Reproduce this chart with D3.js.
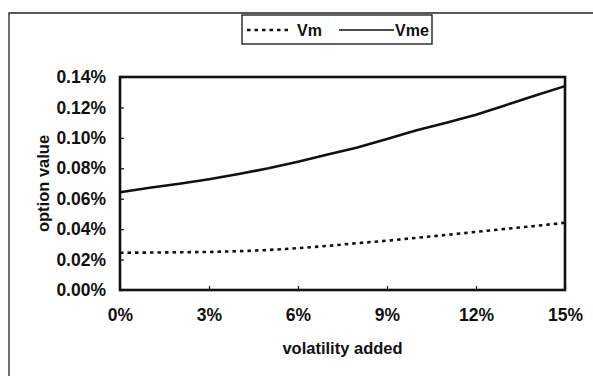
<!DOCTYPE html>
<html>
<head>
<meta charset="utf-8">
<script src="https://cdn.jsdelivr.net/npm/d3@7"></script>
<style>
  html, body { margin: 0; padding: 0; background: #fff; }
  svg { display: block; }
  text { font-family: "Liberation Sans", Arial, sans-serif; fill: #111; }
</style>
</head>
<body>
<svg id="chart" width="593" height="376"></svg>
<script>
// Volatility added (%) along the x axis
const volAdded = [0, 1, 2, 3, 4, 5, 6, 7, 8, 9, 10, 11, 12, 13, 14, 15];
// Option values (%) for each series
const vm  = [0.0245, 0.0246, 0.0248, 0.0250, 0.0255, 0.0263, 0.0275, 0.0290,
             0.0308, 0.0324, 0.0343, 0.0362, 0.0382, 0.0402, 0.0421, 0.0442];
const vme = [0.0642, 0.0672, 0.0698, 0.0728, 0.0762, 0.0800, 0.0843, 0.0890,
             0.0937, 0.0993, 0.1050, 0.1100, 0.1152, 0.1215, 0.1278, 0.1340];
const xTicks = [0, 3, 6, 9, 12, 15];
const yTicks = [0, 0.02, 0.04, 0.06, 0.08, 0.10, 0.12, 0.14];
const seriesNames = ["Vm", "Vme"];

const svg = d3.select("#chart");
const plot = { left: 120, right: 565, top: 77, bottom: 290 };
const labelFont = 17.5;
const legendFont = 16;

const x = d3.scaleLinear().domain([0, 15]).range([plot.left, plot.right]);
const y = d3.scaleLinear().domain([0, 0.14]).range([plot.bottom, plot.top]);

// outer chart border (left and top edges visible)
svg.append("path")
  .attr("d", `M9,378 L9,13 L596,13`)
  .attr("fill", "none").attr("stroke", "#222").attr("stroke-width", 1.3);

// y axis with inward ticks
const yAxis = d3.axisLeft(y).tickValues(yTicks).tickSize(-4).tickPadding(14)
  .tickFormat(d => d3.format(".2f")(d) + "%");
const gy = svg.append("g").attr("transform", `translate(${plot.left},0)`).call(yAxis);
gy.select(".domain").remove();
gy.selectAll(".tick line").attr("stroke", "#111").attr("stroke-width", 1.2);
gy.selectAll(".tick text")
  .attr("x", -14).attr("font-size", labelFont).attr("font-weight", "bold")
  .style("font-family", "'Liberation Sans', Arial, sans-serif").attr("fill", "#111");

// x axis with inward ticks
const xAxis = d3.axisBottom(x).tickValues(xTicks).tickSize(-4).tickPadding(19)
  .tickFormat(d => d + "%");
const gx = svg.append("g").attr("transform", `translate(0,${plot.bottom})`).call(xAxis);
gx.select(".domain").remove();
gx.selectAll(".tick line").attr("stroke", "#111").attr("stroke-width", 1.2);
gx.selectAll(".tick text")
  .attr("font-size", labelFont).attr("font-weight", "bold")
  .style("font-family", "'Liberation Sans', Arial, sans-serif").attr("fill", "#111");

// plot area frame
svg.append("rect")
  .attr("x", plot.left).attr("y", plot.top)
  .attr("width", plot.right - plot.left).attr("height", plot.bottom - plot.top)
  .attr("fill", "none").attr("stroke", "#111").attr("stroke-width", 2.6);

const line = d3.line().x((d, i) => x(volAdded[i])).y(d => y(d));

svg.append("path").datum(vm)
  .attr("d", line).attr("fill", "none").attr("stroke", "#111")
  .attr("stroke-width", 2.6).attr("stroke-dasharray", "3.5,4");

svg.append("path").datum(vme)
  .attr("d", line).attr("fill", "none").attr("stroke", "#111")
  .attr("stroke-width", 2.6);

// axis titles
svg.append("text")
  .attr("x", (plot.left + plot.right) / 2).attr("y", 354)
  .attr("text-anchor", "middle").attr("font-size", 16.5).attr("font-weight", "bold")
  .text("volatility added");

svg.append("text")
  .attr("transform", `translate(49,${(plot.top + plot.bottom) / 2}) rotate(-90)`)
  .attr("text-anchor", "middle").attr("font-size", 16.5).attr("font-weight", "bold")
  .text("option value");

// legend
const lg = svg.append("g");
lg.append("rect").attr("x", 242).attr("y", 15).attr("width", 190).attr("height", 29)
  .attr("fill", "#fff").attr("stroke", "#111").attr("stroke-width", 1.3);
lg.append("line").attr("x1", 247).attr("x2", 292).attr("y1", 30).attr("y2", 30)
  .attr("stroke", "#111").attr("stroke-width", 2.4).attr("stroke-dasharray", "3.5,4");
lg.append("text").attr("x", 297).attr("y", 36).attr("font-size", legendFont).attr("font-weight", "bold")
  .text(seriesNames[0]);
lg.append("line").attr("x1", 339).attr("x2", 394).attr("y1", 30).attr("y2", 30)
  .attr("stroke", "#111").attr("stroke-width", 1.6);
lg.append("text").attr("x", 395).attr("y", 36).attr("font-size", legendFont).attr("font-weight", "bold")
  .text(seriesNames[1]);
</script>
</body>
</html>
